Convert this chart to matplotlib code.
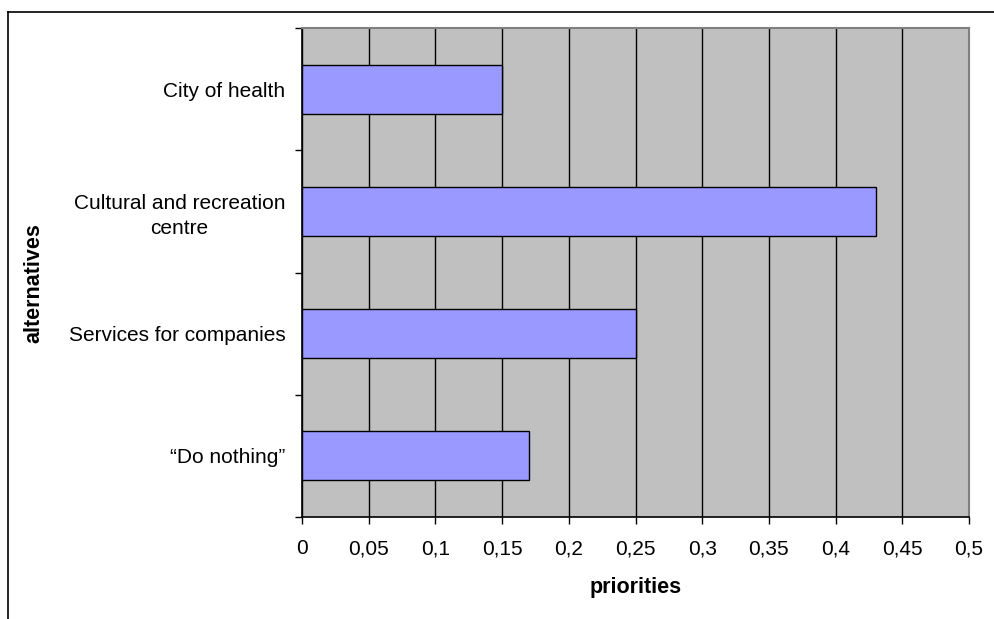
import matplotlib.pyplot as plt
import numpy as np
from matplotlib.lines import Line2D

plt.rcParams['font.family'] = ['Liberation Sans', 'DejaVu Sans']

alternatives = ['City of health', 'Cultural and recreation\ncentre',
                'Services for companies', '\u201cDo nothing\u201d']
priorities = [0.15, 0.43, 0.25, 0.17]
x_ticks = [0, 0.05, 0.1, 0.15, 0.2, 0.25, 0.3, 0.35, 0.4, 0.45, 0.5]
x_tick_labels = ['0', '0,05', '0,1', '0,15', '0,2', '0,25', '0,3', '0,35', '0,4', '0,45', '0,5']

fs = 15

fig = plt.figure(figsize=(9.94, 6.19), dpi=100)
ax = fig.add_axes([302/994, 1 - 517/619, (969 - 302)/994, (517 - 28)/619])

# figure frame (cut off at right and bottom)
fig.add_artist(Line2D([8/994, 1], [1 - 12/619, 1 - 12/619], color='black', lw=1.2, transform=fig.transFigure))
fig.add_artist(Line2D([8/994, 8/994], [0, 1 - 12/619], color='black', lw=1.2, transform=fig.transFigure))

ax.set_facecolor('#C0C0C0')
y = np.arange(len(alternatives))
ax.barh(y, priorities, height=0.4, color='#9999FF', edgecolor='black', linewidth=1, zorder=3)

ax.set_xlim(0, 0.5)
ax.set_ylim(len(alternatives) - 0.5, -0.5)
ax.set_xticks(x_ticks)
ax.set_xticklabels(x_tick_labels, fontsize=fs)
ax.set_yticks(y)
ax.set_yticklabels(alternatives, fontsize=fs, multialignment='center', linespacing=1.4)
ax.set_yticks(np.arange(len(alternatives) + 1) - 0.5, minor=True)
ax.tick_params(axis='y', which='major', length=0, pad=12)
ax.tick_params(axis='y', which='minor', length=5, width=1, direction='out')
ax.tick_params(axis='x', length=5, width=1, direction='out', pad=11)

ax.grid(axis='x', color='black', linewidth=1, zorder=1)
ax.set_axisbelow(True)

for side in ['top', 'right']:
    ax.spines[side].set_color('#808080')
    ax.spines[side].set_linewidth(1.5)
for side in ['left', 'bottom']:
    ax.spines[side].set_color('black')
    ax.spines[side].set_linewidth(1.2)

fig.text(636/994, 1 - 587/619, 'priorities', fontsize=15.5, fontweight='bold',
         ha='center', va='center')
fig.text(34/994, 1 - 283/619, 'alternatives', fontsize=15.5, fontweight='bold',
         rotation=90, ha='center', va='center')

fig.savefig('out.png', dpi=100)
